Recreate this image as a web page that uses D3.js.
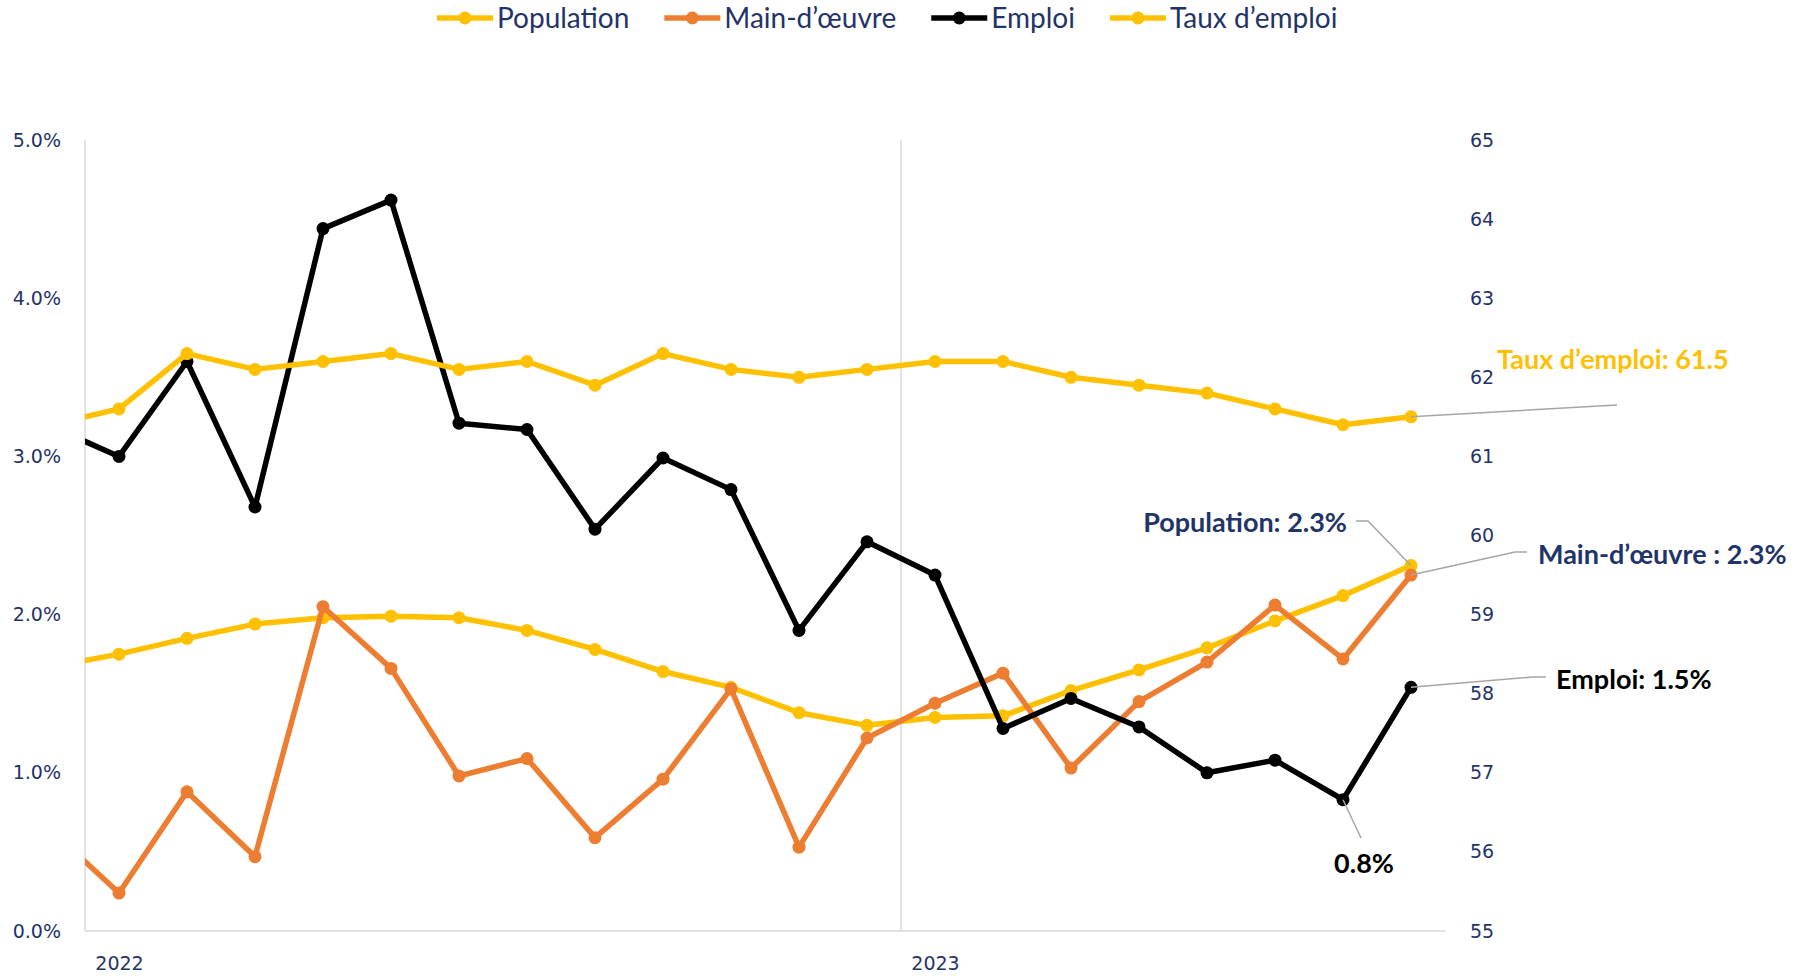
<!DOCTYPE html>
<html>
<head>
<meta charset="utf-8">
<script src="https://cdn.jsdelivr.net/npm/d3@7"></script>
<style>
  body { margin: 0; background: #fff; }
  svg { display: block; font-family: Lato, 'Open Sans', sans-serif; }
</style>
</head>
<body>
<div id="chart"></div>
<script>
// monthly data, Dec 2021 is only partly visible (clipped at the left edge)
const months = ['2021-12', '2022-01', '2022-02', '2022-03', '2022-04', '2022-05', '2022-06',
  '2022-07', '2022-08', '2022-09', '2022-10', '2022-11', '2022-12', '2023-01', '2023-02',
  '2023-03', '2023-04', '2023-05', '2023-06', '2023-07', '2023-08'];
const population = [1.67, 1.75, 1.85, 1.94, 1.98, 1.99, 1.98, 1.90, 1.78, 1.64, 1.54, 1.38,
  1.30, 1.35, 1.36, 1.52, 1.65, 1.79, 1.96, 2.12, 2.31];
const mainOeuvre = [0.64, 0.24, 0.88, 0.47, 2.05, 1.66, 0.98, 1.09, 0.59, 0.96, 1.53, 0.53,
  1.22, 1.44, 1.63, 1.03, 1.45, 1.70, 2.06, 1.72, 2.25];
const emploi = [3.19, 3.00, 3.60, 2.68, 4.44, 4.62, 3.21, 3.17, 2.54, 2.99, 2.79, 1.90,
  2.46, 2.25, 1.28, 1.47, 1.29, 1.00, 1.08, 0.83, 1.54];
const tauxEmploi = [61.4, 61.6, 62.3, 62.1, 62.2, 62.3, 62.1, 62.2, 61.9, 62.3, 62.1, 62.0,
  62.1, 62.2, 62.2, 62.0, 61.9, 61.8, 61.6, 61.4, 61.5];

const leftTicks = [0, 1, 2, 3, 4, 5];
const rightTicks = [55, 56, 57, 58, 59, 60, 61, 62, 63, 64, 65];
const yearTicks = ['2022-01', '2023-01'];

const width = 1805, height = 976;
const navy = '#1f3468';
const leader = '#a6a6a6';
const tickFont = "'DejaVu Sans', Verdana, sans-serif";

const svg = d3.select('#chart')
    .append('svg')
    .attr('width', width)
    .attr('height', height);

const plot = { left: 85, right: 1445, top: 140, bottom: 931 };

const xScale = d3.scaleLinear()
    .domain([0.5, months.length - 0.5])
    .range([plot.left, plot.right]);
const yLeft = d3.scaleLinear()
    .domain([0, 5])
    .range([plot.bottom, plot.top]);
const yRight = d3.scaleLinear()
    .domain([55, 65])
    .range([plot.bottom, plot.top]);

svg.append('clipPath')
    .attr('id', 'plot-clip')
    .append('rect')
    .attr('x', plot.left)
    .attr('y', 0)
    .attr('width', plot.right - plot.left + 20)
    .attr('height', height);

// axis lines
svg.append('line')
    .attr('x1', plot.left).attr('x2', plot.left)
    .attr('y1', plot.top).attr('y2', plot.bottom)
    .attr('stroke', '#d9d9d9').attr('stroke-width', 1.5);
svg.append('line')
    .attr('x1', plot.left).attr('x2', plot.right)
    .attr('y1', plot.bottom).attr('y2', plot.bottom)
    .attr('stroke', '#d9d9d9').attr('stroke-width', 1.5);
// year divider between Dec 2022 and Jan 2023
const divX = xScale(months.indexOf('2023-01') - 0.5);
svg.append('line')
    .attr('x1', divX).attr('x2', divX)
    .attr('y1', plot.top).attr('y2', plot.bottom)
    .attr('stroke', '#d9d9d9').attr('stroke-width', 1.5);

const yAxisLeft = d3.axisLeft(yLeft)
    .tickValues(leftTicks)
    .tickSize(0)
    .tickPadding(0)
    .tickFormat(d => d.toFixed(1) + '%');
svg.append('g')
    .attr('transform', `translate(${plot.left - 24}, 0)`)
    .call(yAxisLeft)
    .call(g => g.select('.domain').remove())
    .selectAll('text')
    .attr('font-family', tickFont)
    .attr('font-size', 19)
    .attr('fill', navy);

const yAxisRight = d3.axisRight(yRight)
    .tickValues(rightTicks)
    .tickSize(0)
    .tickPadding(0);
svg.append('g')
    .attr('transform', `translate(${plot.right + 25}, 0)`)
    .call(yAxisRight)
    .call(g => g.select('.domain').remove())
    .selectAll('text')
    .attr('font-family', tickFont)
    .attr('font-size', 19)
    .attr('fill', navy);

const xAxis = d3.axisBottom(xScale)
    .tickValues(yearTicks.map(m => months.indexOf(m)))
    .tickSize(0)
    .tickPadding(0)
    .tickFormat(i => months[i].slice(0, 4));
svg.append('g')
    .attr('transform', `translate(0, ${plot.bottom + 25})`)
    .call(xAxis)
    .call(g => g.select('.domain').remove())
    .selectAll('text')
    .attr('font-family', tickFont)
    .attr('font-size', 19)
    .attr('fill', navy);

const series = [
  { name: 'Population', values: population, y: yLeft, color: '#ffc000' },
  { name: 'Main-d\u2019œuvre', values: mainOeuvre, y: yLeft, color: '#ed7d31' },
  { name: 'Emploi', values: emploi, y: yLeft, color: '#000000' },
  { name: 'Taux d\u2019emploi', values: tauxEmploi, y: yRight, color: '#ffc000' }
];

const lines = svg.append('g').attr('clip-path', 'url(#plot-clip)');
series.forEach(s => {
  const line = d3.line()
      .x((d, i) => xScale(i))
      .y(d => s.y(d));
  const g = lines.append('g');
  g.append('path')
      .datum(s.values)
      .attr('d', line)
      .attr('fill', 'none')
      .attr('stroke', s.color)
      .attr('stroke-width', 5.5)
      .attr('stroke-linejoin', 'round');
  g.selectAll('circle')
      .data(s.values)
      .enter()
      .append('circle')
      .attr('cx', (d, i) => xScale(i))
      .attr('cy', d => s.y(d))
      .attr('r', 6.5)
      .attr('fill', s.color);
});

// legend
const legend = svg.append('g');
let lx = 0;
series.forEach(s => {
  const item = legend.append('g').attr('transform', `translate(${lx}, 18)`);
  item.append('line')
      .attr('x1', 0).attr('x2', 56)
      .attr('stroke', s.color).attr('stroke-width', 5.5);
  item.append('circle')
      .attr('cx', 28).attr('r', 6.5).attr('fill', s.color);
  const t = item.append('text')
      .attr('x', 60)
      .attr('dy', '0.35em')
      .attr('font-size', 28)
      .attr('fill', navy)
      .text(s.name);
  lx += 60 + t.node().getComputedTextLength() + 35;
});
legend.attr('transform', 'translate(437, 0)');

// end-of-series labels with leader lines
const last = months.length - 1;
const lastX = xScale(last);
const labels = [
  { text: 'Taux d\u2019emploi: 61.5', color: '#ffc000', y: yRight(tauxEmploi[last]),
    path: [[1617, 405]], tx: 1497, ty: 360, anchor: 'start' },
  { text: 'Population: 2.3%', color: navy, y: yLeft(population[last]),
    path: [[1368, 521], [1356, 521]], tx: 1347, ty: 523, anchor: 'end' },
  { text: 'Main-d\u2019œuvre : 2.3%', color: navy, y: yLeft(mainOeuvre[last]),
    path: [[1515, 552], [1527, 552]], tx: 1538, ty: 555, anchor: 'start' },
  { text: 'Emploi: 1.5%', color: '#000', y: yLeft(emploi[last]),
    path: [[1533, 677], [1546, 677]], tx: 1556, ty: 680, anchor: 'start' }
];
labels.forEach(l => {
  const pts = [[lastX, l.y]].concat(l.path);
  svg.append('path')
      .attr('d', d3.line()(pts))
      .attr('fill', 'none')
      .attr('stroke', leader)
      .attr('stroke-width', 1.5);
  svg.append('text')
      .attr('x', l.tx)
      .attr('y', l.ty)
      .attr('dy', '0.35em')
      .attr('text-anchor', l.anchor)
      .attr('font-size', 27)
      .attr('font-weight', 'bold')
      .attr('fill', l.color)
      .text(l.text);
});

// low point of Emploi
const lowIdx = months.indexOf('2023-07');
svg.append('path')
    .attr('d', d3.line()([[xScale(lowIdx), yLeft(emploi[lowIdx])], [1361, 838]]))
    .attr('fill', 'none')
    .attr('stroke', leader)
    .attr('stroke-width', 1.5);
svg.append('text')
    .attr('x', 1364)
    .attr('y', 864)
    .attr('dy', '0.35em')
    .attr('text-anchor', 'middle')
    .attr('font-size', 27)
    .attr('font-weight', 'bold')
    .attr('fill', '#000')
    .text(emploi[lowIdx].toFixed(1) + '%');
</script>
</body>
</html>
